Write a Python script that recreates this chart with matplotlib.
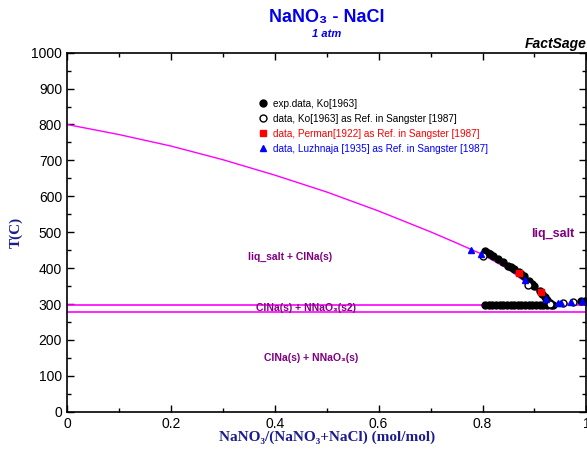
import matplotlib
matplotlib.use("Agg")
import matplotlib.pyplot as plt
from matplotlib.ticker import MultipleLocator

plt.rcParams['font.family'] = ['Liberation Sans', 'DejaVu Sans']

# calculated liquidus, NaCl side and NaNO3 side
liq_x = [0.0, 0.1, 0.2, 0.3, 0.4, 0.5, 0.6, 0.7, 0.75, 0.8, 0.85, 0.9, 0.935]
liq_T = [800, 772, 740, 702, 659, 612, 559, 501, 470, 438, 397, 342, 297]
liq2_x = [0.935, 0.96, 0.98, 1.0]
liq2_T = [297, 301, 304, 307]
eut_T = 297
trans_T = 277

# exp.data, Ko[1963]
ko_x = [0.805, 0.81, 0.815, 0.82, 0.83, 0.84, 0.85, 0.855, 0.86, 0.87, 0.875, 0.88,
        0.89, 0.895, 0.90, 0.91, 0.915, 0.92, 0.925, 0.93,
        0.805, 0.812, 0.819, 0.826, 0.833, 0.840, 0.847, 0.854, 0.861, 0.868, 0.875,
        0.882, 0.889, 0.896, 0.903, 0.910, 0.917, 0.924, 0.931, 0.936,
        0.99, 0.997]
ko_T = [447, 443, 439, 434, 425, 416, 407, 403, 398, 389, 383, 377,
        363, 356, 349, 335, 327, 319, 311, 304,
        297, 297, 297, 297, 297, 297, 297, 297, 297, 297, 297,
        297, 297, 297, 297, 297, 297, 297, 297, 297,
        308, 309]
# data, Ko[1963] as Ref. in Sangster [1987]
kos_x = [0.80, 0.887, 0.93, 0.955, 0.975]
kos_T = [433, 352, 299, 302, 306]
# data, Perman[1922]
per_x = [0.871, 0.912]
per_T = [387, 333]
# data, Luzhnaja [1935]
luz_x = [0.778, 0.797, 0.882, 0.922, 0.945, 0.952, 0.97, 0.992]
luz_T = [450, 440, 368, 313, 303, 304, 306, 309]

fig = plt.figure(figsize=(5.87, 4.5), dpi=100)
ax = fig.add_axes([0.114, 0.085, 0.885, 0.798])

pink = '#ff00ff'
ax.plot(liq_x, liq_T, color=pink, lw=1, zorder=2)
ax.plot(liq2_x, liq2_T, color=pink, lw=1, zorder=2)
ax.axhline(eut_T, color=pink, lw=1.2, zorder=2)
ax.axhline(trans_T, color=pink, lw=1.2, zorder=2)

ax.plot(ko_x, ko_T, 'o', color='black', ms=5, zorder=3, label='exp.data, Ko[1963]')
ax.plot(kos_x, kos_T, 'o', mfc='white', mec='black', ms=5, mew=1, zorder=4,
        label='data, Ko[1963] as Ref. in Sangster [1987]')
ax.plot(per_x, per_T, 's', color='red', ms=4.5, zorder=5,
        label='data, Perman[1922] as Ref. in Sangster [1987]')
ax.plot(luz_x, luz_T, '^', color='blue', ms=5, zorder=5,
        label='data, Luzhnaja [1935] as Ref. in Sangster [1987]')

leg = ax.legend(loc='upper left', bbox_to_anchor=(0.36, 0.885), frameon=False,
                fontsize=7.2, handlelength=0.8, handletextpad=0.6, labelspacing=0.5,
                borderpad=0)
for t, c in zip(leg.get_texts(), ['black', 'black', 'red', 'blue']):
    t.set_color(c)

purple = '#800080'
kw = dict(color=purple, fontsize=7.5, fontweight='bold', ha='center', va='center')
ax.text(0.43, 432, 'liq_salt + ClNa(s)', **kw)
ax.text(0.46, 289, 'ClNa(s) + NNaO\u2083(s2)', **kw)
ax.text(0.47, 150, 'ClNa(s) + NNaO\u2083(s)', **kw)
ax.text(0.935, 494, 'liq_salt', color=purple, fontsize=9, fontweight='bold',
        ha='center', va='center')

ax.set_xlim(0, 1)
ax.set_ylim(0, 1000)
ax.xaxis.set_major_locator(MultipleLocator(0.2))
ax.xaxis.set_minor_locator(MultipleLocator(0.1))
ax.yaxis.set_major_locator(MultipleLocator(100))
ax.yaxis.set_minor_locator(MultipleLocator(50))
ax.set_xticks([0, 0.2, 0.4, 0.6, 0.8, 1.0])
ax.set_xticklabels(['0', '0.2', '0.4', '0.6', '0.8', '1'])
ax.tick_params(which='both', direction='in', top=True, right=True, labelsize=10,
               colors='black')
ax.tick_params(which='major', length=5, width=1)
ax.tick_params(which='minor', length=3, width=1)
for s in ax.spines.values():
    s.set_linewidth(1.2)

navy = '#1c1c8c'
serif = ['Liberation Serif', 'DejaVu Serif']
ax.set_xlabel('NaNO\u2083/(NaNO\u2083+NaCl) (mol/mol)', family=serif,
              fontweight='bold', fontsize=11, color=navy, labelpad=0)
ax.set_ylabel('T(C)', family=serif, fontweight='bold', fontsize=11,
              color=navy, labelpad=6)

fig.text(0.557, 0.962, 'NaNO\u2083 - NaCl', color='#0000ee', fontsize=13,
         fontweight='bold', ha='center', va='center')
fig.text(0.557, 0.925, '1 atm', color='#0000ee', fontsize=8, fontweight='bold',
         style='italic', ha='center', va='center')
fig.text(0.999, 0.903, 'FactSage', color='black', fontsize=10, fontweight='bold',
         style='italic', ha='right', va='center')

fig.savefig('out.png', dpi=100)
